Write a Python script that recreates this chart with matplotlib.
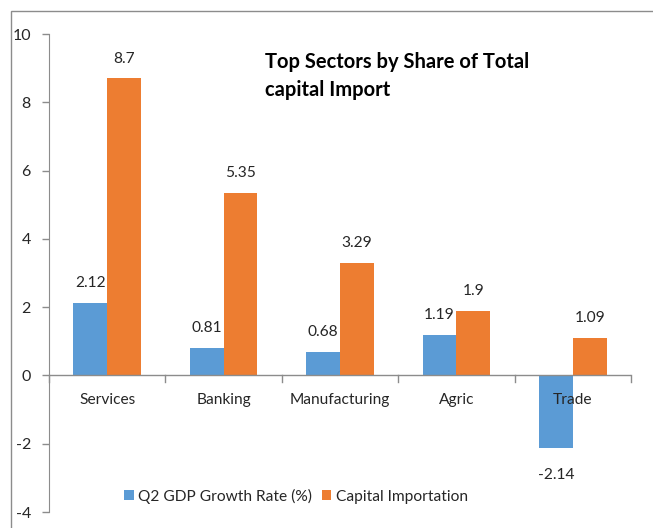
import matplotlib
matplotlib.use("Agg")
import matplotlib.pyplot as plt
import numpy as np
from matplotlib.patches import Rectangle

plt.rcParams["font.family"] = ["Lato", "DejaVu Sans"]

sectors = ["Services", "Banking", "Manufacturing", "Agric", "Trade"]
gdp_growth = [2.12, 0.81, 0.68, 1.19, -2.14]
capital_import = [8.7, 5.35, 3.29, 1.9, 1.09]
gdp_labels = ["2.12", "0.81", "0.68", "1.19", "-2.14"]
cap_labels = ["8.7", "5.35", "3.29", "1.9", "1.09"]
y_ticks = [-4, -2, 0, 2, 4, 6, 8, 10]

BLUE = "#5B9BD5"
ORANGE = "#ED7D31"
W, H = 653, 528

fig = plt.figure(figsize=(W / 100, H / 100), dpi=100)
ax = fig.add_axes([49 / W, 1 - 512 / H, (631 - 49) / W, (512 - 34) / H])

# outer chart-area frame
fig.patches.append(Rectangle((11 / W, -0.1), 1.2, 1 - 11 / H + 0.1,
                             transform=fig.transFigure, fill=False,
                             edgecolor="#8c8c8c", linewidth=1.0))

x = np.arange(len(sectors))
bw = 0.29
b1 = ax.bar(x - bw / 2, gdp_growth, bw, color=BLUE, label="Q2 GDP Growth Rate (%)")
b2 = ax.bar(x + bw / 2, capital_import, bw, color=ORANGE, label="Capital Importation")

for xi, v, s in zip(x, gdp_growth, gdp_labels):
    off = 0.58 if v >= 0 else -0.78
    ax.text(xi - bw / 2, v + off, s, ha="center", va="center", fontsize=11.2, color="#262626")
for xi, v, s in zip(x, capital_import, cap_labels):
    ax.text(xi + bw / 2, v + 0.58, s, ha="center", va="center", fontsize=11.2, color="#262626")

ax.set_xlim(-0.5, len(sectors) - 0.5)
ax.set_ylim(-4, 10)
ax.set_yticks(y_ticks)
ax.set_yticklabels([str(t) for t in y_ticks], fontsize=11.5, color="#262626")
ax.tick_params(axis="y", length=5, color="#8c8c8c", width=1, pad=8)

# category axis at zero with boundary tick marks
ax.set_xticks([])
ax.axhline(0, color="#8c8c8c", linewidth=1.0, zorder=3)
for b in np.arange(-0.5, len(sectors), 1.0):
    ax.plot([b, b], [0, -0.18], color="#8c8c8c", linewidth=1.0, clip_on=False, zorder=3)
for xi, name in zip(x, sectors):
    ax.text(xi, -0.72, name, ha="center", va="center", fontsize=11.2, color="#262626", zorder=4)

for side in ["top", "right", "bottom"]:
    ax.spines[side].set_visible(False)
ax.spines["left"].set_color("#8c8c8c")

fig.text(265 / W, 1 - 76 / H, "Top Sectors by Share of Total\ncapital Import",
         fontsize=14.5, fontweight="bold", color="#000000", ha="left", va="center",
         linespacing=1.55)

leg = fig.legend(handles=[b1, b2], loc="center", bbox_to_anchor=(296 / W, 1 - 496 / H),
                 ncol=2, frameon=False, fontsize=11.2, handlelength=0.6, handleheight=0.6,
                 handletextpad=0.3, columnspacing=0.6)
for t in leg.get_texts():
    t.set_color("#262626")

fig.savefig("out.png", dpi=100)
